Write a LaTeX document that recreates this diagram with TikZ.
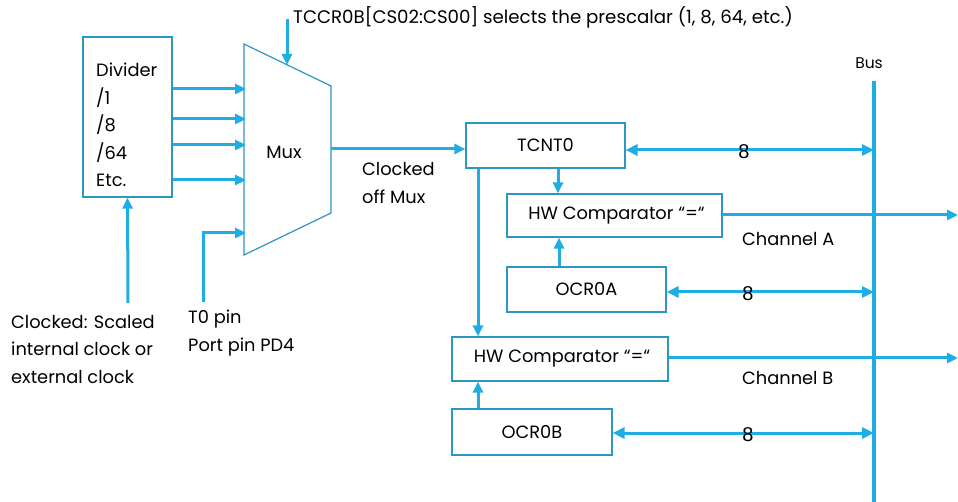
\documentclass[tikz,border=0pt]{standalone}
\usepackage{fontspec}
\setmainfont{Poppins}
\newfontfamily\arialf{Liberation Sans}
\usetikzlibrary{arrows.meta}
\definecolor{wirec}{RGB}{30,174,228}
\definecolor{boxc}{RGB}{45,150,195}
\tikzset{
  wire/.style={draw=wirec, line width=3pt, -{Triangle[length=11pt,width=10pt]}},
  dwire/.style={draw=wirec, line width=3pt, {Triangle[length=12pt,width=11pt]}-{Triangle[length=12pt,width=11pt]}},
  blk/.style={draw=boxc, line width=1.2pt, rectangle, inner sep=0pt, font=\fontsize{17.8}{21}\selectfont},
  lbl/.style={inner sep=0pt, align=left, anchor=west, font=\fontsize{17.8}{27.5}\selectfont},
  eight/.style={inner sep=0pt, font=\arialf\fontsize{20}{24}\selectfont},
}
\begin{document}
\begin{tikzpicture}[x=1pt,y=-1pt]
\useasboundingbox (0,0) rectangle (958,502);
% divider
\node[blk, minimum width=89pt, minimum height=160pt] (div) at (127.5,117) {};
\node[lbl] (divt) at (96,125) {Divider\\/1\\/8\\/64\\Etc.};
% mux
\coordinate (mtl) at (244,44);
\coordinate (mtr) at (331,86);
\coordinate (mbr) at (331,213);
\coordinate (mbl) at (244,255);
\draw[boxc, line width=1.2pt] (mtl) -- (mtr) -- (mbr) -- (mbl) -- cycle;
\node[inner sep=0pt, font=\fontsize{17.8}{21}\selectfont] (mux) at (284,152) {Mux};
\coordinate (m1) at (246,89);
\coordinate (m2) at (246,119);
\coordinate (m3) at (246,145);
\coordinate (m4) at (246,180);
\coordinate (m5) at (246,233);
\coordinate (mtop) at (287,65);
\coordinate (mout) at (331,149);
\draw[wire] (div.east |- m1) -- (m1);
\draw[wire] (div.east |- m2) -- (m2);
\draw[wire] (div.east |- m3) -- (m3);
\draw[wire] (div.east |- m4) -- (m4);
% top selector
\node[lbl, font=\fontsize{18.2}{21}\selectfont] (sel) at (293,17) {TCCR0B[CS02:CS00] selects the prescalar (1, 8, 64, etc.)};
\coordinate (selsrc) at (287,19);
\draw[wire] (selsrc) -- (mtop);
% clock input
\coordinate (clk) at (128,303);
\draw[wire] (clk) -- (div.south);
\node[lbl] (clkt) at (11,349) {Clocked: Scaled\\internal clock or\\external clock};
% T0 pin
\coordinate (t0) at (203,302);
\draw[wire] (t0) |- (m5);
\node[lbl] (t0t) at (188,333) {T0 pin\\Port pin PD4};
% boxes
\node[blk, minimum width=159pt, minimum height=45pt] (tcnt) at (545.5,145.5) {TCNT0};
\node[blk, minimum width=215pt, minimum height=43pt] (cmpa) at (614.5,215.5) {\hspace*{4pt}HW Comparator “=“};
\node[blk, minimum width=159pt, minimum height=45pt] (ocra) at (586.5,289.5) {OCR0A};
\node[blk, minimum width=216pt, minimum height=44pt] (cmpb) at (560,359) {\hspace*{4pt}HW Comparator “=“};
\node[blk, minimum width=160pt, minimum height=46pt] (ocrb) at (532,432) {OCR0B};
% mux out
\draw[wire] (mout) -- (tcnt.west |- mout);
\node[lbl, font=\fontsize{17.8}{28}\selectfont] (cmt) at (362,183) {Clocked\\off Mux};
% bus
\coordinate (bustop) at (874,81);
\coordinate (busbot) at (874,502);
\draw[wirec, line width=4pt] (bustop) -- (busbot);
\node[inner sep=0pt, font=\fontsize{15.5}{18}\selectfont] (bust) at (869,63) {Bus};
\coordinate (b1) at (874,150);
\coordinate (b2) at (874,292);
\coordinate (b3) at (874,433);
\draw[dwire] (tcnt.east |- b1) -- (b1);
\draw[dwire] (ocra.east |- b2) -- (b2);
\draw[dwire] (ocrb.east |- b3) -- (b3);
\node[eight] (e1) at (744,152) {8};
\node[eight] (e2) at (748,294) {8};
\node[eight] (e3) at (748,435) {8};
% internal arrows
\coordinate (xa) at (558,0);
\coordinate (xa2) at (559,0);
\coordinate (xb) at (478,0);
\draw[wire] (tcnt.south -| xa) -- (cmpa.north -| xa);
\draw[wire] (ocra.north -| xa2) -- (cmpa.south -| xa2);
\draw[wire] (tcnt.south -| xb) -- (cmpb.north -| xb);
\draw[wire] (ocrb.north -| xb) -- (cmpb.south -| xb);
% outputs
\coordinate (outa) at (958,215);
\coordinate (outb) at (958,358);
\draw[wire] (cmpa.east |- outa) -- (outa);
\draw[wire] (cmpb.east |- outb) -- (outb);
\node[lbl, font=\fontsize{17.8}{21}\selectfont] (cha) at (742,239) {Channel A};
\node[lbl, font=\fontsize{17.8}{21}\selectfont] (chb) at (742,378) {Channel B};
\end{tikzpicture}
\end{document}
